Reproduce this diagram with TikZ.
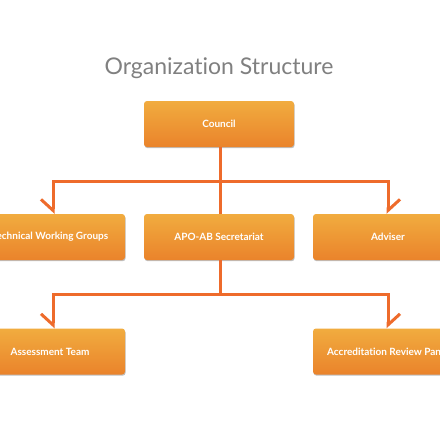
\documentclass[tikz,border=0pt]{standalone}
\usepackage{fontspec}
\setmainfont[Ligatures=NoCommon]{Lato}
\usetikzlibrary{arrows.meta,shadows,calc}
\definecolor{boxtop}{HTML}{F1AC3F}
\definecolor{boxbot}{HTML}{EA832B}
\definecolor{linecol}{HTML}{EE6B2B}
\definecolor{titlecol}{HTML}{808080}
\tikzset{
  orgbox/.style={rectangle, rounded corners=3pt, minimum width=150pt, minimum height=46pt,
    top color=boxtop, bottom color=boxbot, draw=none, text=white,
    font=\bfseries\fontsize{10}{12}\selectfont,
    drop shadow={shadow xshift=0.6pt, shadow yshift=-1.2pt, opacity=0.25, fill=black}},
  conn/.style={draw=linecol, line width=3pt, miter limit=10},
  halfarrowL/.style={conn, -{Straight Barb[harpoon, swap, length=11pt, width=24pt, line width=3pt]}},
  halfarrowR/.style={conn, -{Straight Barb[harpoon, length=11pt, width=24pt, line width=3pt]}},
  titletext/.style={font=\fontsize{23}{27}\selectfont, text=titlecol}
}
\begin{document}
\begin{tikzpicture}[x=1pt,y=-1pt]
\useasboundingbox (0,0) rectangle (440,440);
\clip (0,0) rectangle (440,440);
\fill[white] (0,0) rectangle (440,440);
\node[titletext] (title) at (219,68) {Organization Structure};
\node[orgbox] (council) at (219,124) {Council};
\node[orgbox] (twg) at (50,237) {Technical Working Groups};
\node[orgbox] (sec) at (219,237) {APO-AB Secretariat};
\node[orgbox] (adv) at (388,237) {Adviser};
\node[orgbox] (ass) at (50,351.5) {Assessment Team};
\node[orgbox] (arp) at (388,351.5) {Accreditation Review Panel};
\coordinate (j1) at (220,181);
\coordinate (j2) at (220,294);
\coordinate (twgin) at ([xshift=3pt]twg.north);
\coordinate (assin) at ([xshift=3pt]ass.north);
\draw[conn] (council.south -| j1) -- (sec.north -| j1);
\draw[conn] (sec.south -| j2) -- (j2);
\draw[halfarrowL] (j1) -| (twgin);
\draw[halfarrowR] (j1) -| (adv.north);
\draw[halfarrowL] (j2) -| (assin);
\draw[halfarrowR] (j2) -| (arp.north);
\end{tikzpicture}
\end{document}
